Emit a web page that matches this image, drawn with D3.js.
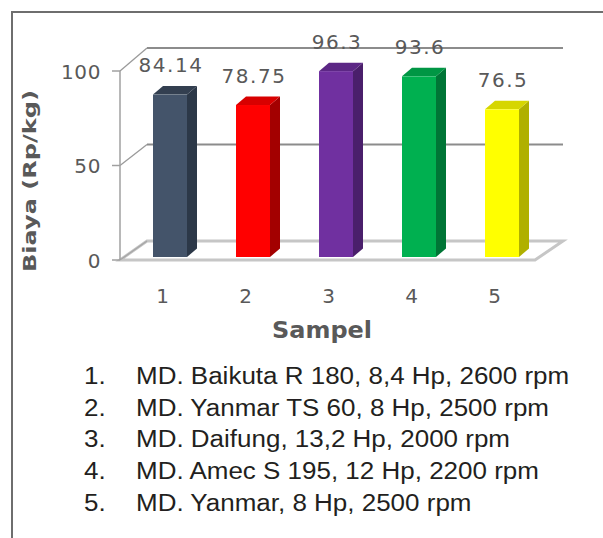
<!DOCTYPE html>
<html lang="id">
  <head>
    <meta charset="UTF-8" />
    <title>Biaya per Sampel</title>
    <script src="https://d3js.org/d3.v7.min.js"></script>
    <style>
      body {
        margin: 0;
        background: #fff;
      }
      .tick-label {
        font-family: "DejaVu Sans", sans-serif;
        font-size: 20px;
        fill: #595959;
      }
      .axis-title {
        font-family: "DejaVu Sans", sans-serif;
        font-weight: bold;
        fill: #595959;
      }
      .legend text {
        font-family: "Liberation Sans", Arial, sans-serif;
        font-size: 23px;
        fill: #231f20;
      }
    </style>
  </head>
  <body>
    <div id="chart"></div>

    <script>
      const categories = ["1", "2", "3", "4", "5"];
      const values = [84.14, 78.75, 96.3, 93.6, 76.5];
      const valueLabels = ["84.14", "78.75", "96.3", "93.6", "76.5"];
      const yTicks = [0, 50, 100];
      const frontColors = ["#44546a", "#ff0000", "#7030a0", "#00b050", "#ffff00"];
      const sideColors = ["#2c3848", "#a30000", "#4a1f6b", "#007536", "#b0b000"];
      const topColors = ["#333f50", "#d80000", "#5c2785", "#009644", "#d6d600"];
      const legendNumbers = ["1.", "2.", "3.", "4.", "5."];
      const legendItems = [
        "MD. Baikuta R 180, 8,4 Hp, 2600 rpm",
        "MD. Yanmar TS 60, 8 Hp, 2500 rpm",
        "MD. Daifung, 13,2 Hp, 2000 rpm",
        "MD. Amec S 195, 12 Hp, 2200 rpm",
        "MD. Yanmar, 8 Hp, 2500 rpm",
      ];

      const W = 603,
        H = 538;
      // depth of the 3d box (front edge to back wall)
      const depthX = 27;
      // depth of each column
      const barDX = 10,
        barDY = -8.5,
        barW = 34,
        barShift = 8.5;

      const svg = d3
        .select("#chart")
        .append("svg")
        .attr("width", W)
        .attr("height", H);

      // frame
      svg
        .append("path")
        .attr("d", "M12,538 L12,12 L603,12")
        .attr("fill", "none")
        .attr("stroke", "#6e6e6e")
        .attr("stroke-width", 2);

      const x = d3.scaleBand().domain(categories).range([120, 535]);
      const yFront = d3.scaleLinear().domain([0, 100]).range([260, 71]);
      const yBack = d3.scaleLinear().domain([0, 100]).range([241, 48]);
      const yBar = d3.scaleLinear().domain([0, 100]).range([257, 64]);

      const x0 = x.range()[0],
        x1 = x.range()[1];

      // back wall gridlines and side wall diagonals
      const grid = svg.append("g");
      yTicks
        .filter((t) => t > 0)
        .forEach((t) => {
          grid
            .append("line")
            .attr("x1", x0 + depthX)
            .attr("x2", x1 + depthX + 1)
            .attr("y1", yBack(t))
            .attr("y2", yBack(t))
            .attr("stroke", "#8c8c8c")
            .attr("stroke-width", 1.8);
          grid
            .append("line")
            .attr("x1", x0)
            .attr("y1", yFront(t))
            .attr("x2", x0 + depthX)
            .attr("y2", yBack(t))
            .attr("stroke", "#9a9a9a")
            .attr("stroke-width", 1.3);
        });

      // floor
      svg
        .append("path")
        .attr(
          "d",
          `M${x0},${yFront(0)} L${x1},${yFront(0)} L${x1 + depthX + 1},${yBack(0)} L${x0 + depthX},${yBack(0)} Z`
        )
        .attr("fill", "#fff")
        .attr("stroke", "#c6c6c6")
        .attr("stroke-width", 3);
      svg
        .append("line")
        .attr("x1", x0)
        .attr("x2", x0 + depthX)
        .attr("y1", yFront(0))
        .attr("y2", yBack(0))
        .attr("stroke", "#a6a6a6")
        .attr("stroke-width", 1.3);

      // vertical axis and ticks
      svg
        .append("line")
        .attr("x1", x0)
        .attr("x2", x0)
        .attr("y1", yFront(100))
        .attr("y2", yFront(0))
        .attr("stroke", "#a0a0a0")
        .attr("stroke-width", 1.5);

      svg
        .selectAll(".ytick")
        .data(yTicks)
        .enter()
        .append("line")
        .attr("x1", x0 - 8)
        .attr("x2", x0)
        .attr("y1", (d) => yFront(d))
        .attr("y2", (d) => yFront(d))
        .attr("stroke", "#a0a0a0")
        .attr("stroke-width", 1.5);

      svg
        .selectAll(".ylab")
        .data(yTicks)
        .enter()
        .append("text")
        .attr("class", "tick-label")
        .attr("x", 101)
        .attr("y", (d) => yFront(d) + 7.5)
        .attr("text-anchor", "end")
        .style("letter-spacing", "0.6px")
        .text((d) => d);

      // columns
      const bars = svg
        .selectAll(".bar")
        .data(values)
        .enter()
        .append("g")
        .attr("class", "bar");

      const left = (i) => x(categories[i]) + x.bandwidth() / 2 + barShift - barW / 2;

      bars
        .append("path")
        .attr("fill", (d, i) => sideColors[i])
        .attr("d", (d, i) => {
          const l = left(i) + barW;
          return `M${l},${yBar(0)} L${l + barDX},${yBar(0) + barDY} L${l + barDX},${yBar(d) + barDY} L${l},${yBar(d)} Z`;
        });

      bars
        .append("path")
        .attr("fill", (d, i) => topColors[i])
        .attr("d", (d, i) => {
          const l = left(i);
          const t = yBar(d);
          return `M${l},${t} L${l + barDX},${t + barDY} L${l + barW + barDX},${t + barDY} L${l + barW},${t} Z`;
        });

      bars
        .append("rect")
        .attr("fill", (d, i) => frontColors[i])
        .attr("x", (d, i) => left(i))
        .attr("y", (d) => yBar(d))
        .attr("width", barW)
        .attr("height", (d) => yBar(0) - yBar(d));

      // value labels
      svg
        .selectAll(".vlab")
        .data(values)
        .enter()
        .append("text")
        .attr("class", "tick-label")
        .attr("x", (d, i) => x(categories[i]) + x.bandwidth() / 2 + barShift + 1)
        .attr("y", (d) => yBar(d) + barDY - 14)
        .attr("text-anchor", "middle")
        .style("letter-spacing", "1.5px")
        .text((d, i) => valueLabels[i]);

      // category labels
      svg
        .selectAll(".xlab")
        .data(categories)
        .enter()
        .append("text")
        .attr("class", "tick-label")
        .attr("x", (d) => x(d) + x.bandwidth() / 2 + 1)
        .attr("y", 303)
        .attr("text-anchor", "middle")
        .text((d) => d);

      // axis titles
      svg
        .append("text")
        .attr("class", "axis-title")
        .attr("x", 322)
        .attr("y", 338)
        .attr("text-anchor", "middle")
        .style("font-size", "23px")
        .attr("textLength", 100)
        .attr("lengthAdjust", "spacingAndGlyphs")
        .text("Sampel");

      svg
        .append("text")
        .attr("class", "axis-title")
        .attr("transform", "translate(36,181) rotate(-90)")
        .attr("text-anchor", "middle")
        .style("font-size", "17px")
        .attr("textLength", 182)
        .attr("lengthAdjust", "spacingAndGlyphs")
        .text("Biaya  (Rp/kg)");

      // numbered list below the chart (source picture is stretched sideways)
      const stretch = 1.13;
      const legend = svg
        .selectAll(".legend")
        .data(legendItems)
        .enter()
        .append("g")
        .attr("class", "legend");

      legend
        .append("text")
        .attr("transform", (d, i) => `translate(84,${384 + i * 31.7}) scale(${stretch},1)`)
        .text((d, i) => legendNumbers[i]);

      legend
        .append("text")
        .attr("transform", (d, i) => `translate(136,${384 + i * 31.7}) scale(${stretch},1)`)
        .text((d) => d);
    </script>
  </body>
</html>
